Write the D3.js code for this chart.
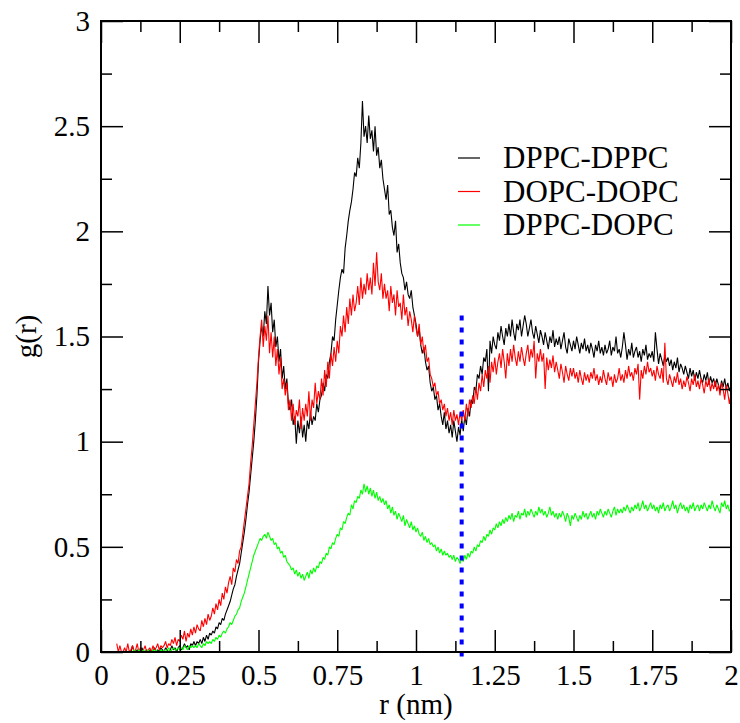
<!DOCTYPE html>
<html>
<head>
<meta charset="utf-8">
<script src="https://cdn.jsdelivr.net/npm/d3@7"></script>
<style>
  body { margin: 0; background: #fff; }
  svg { display: block; }
</style>
</head>
<body>
<div id="chart"></div>
<script>
// sample positions r = 0.050 .. 2.000 nm, every 0.005
var rValues = d3.range(50, 2001, 5).map(function(i) { return i / 1000; });

var dppcDppc = [
  0, 0, 0, 0, 0, 0, 0, 0, 0, 0,
  0.03, 0, 0, 0.01, 0, 0, 0.02, 0, 0, 0.01,
  0, 0.01, 0, 0, 0.02, 0, 0.01, 0, 0.02, 0.01,
  0, 0.02, 0.01, 0, 0.01, 0.03, 0.01, 0.02, 0, 0.02,
  0.03, 0.01, 0.02, 0.04, 0.02, 0.03, 0.01, 0.04, 0.03, 0.05,
  0.03, 0.05, 0.04, 0.06, 0.04, 0.07, 0.05, 0.08, 0.06, 0.09,
  0.08, 0.1, 0.09, 0.12, 0.11, 0.14, 0.13, 0.16, 0.15, 0.18,
  0.2, 0.22, 0.24, 0.27, 0.3, 0.32, 0.36, 0.39, 0.42, 0.47,
  0.52, 0.57, 0.63, 0.7, 0.76, 0.84, 0.92, 1.0, 1.1, 1.22,
  1.38, 1.48, 1.55, 1.5, 1.62, 1.56, 1.74, 1.6, 1.66, 1.52,
  1.58, 1.45, 1.5, 1.38, 1.44, 1.3, 1.36, 1.25, 1.3, 1.18,
  1.15, 1.2, 1.08, 1.12, 0.99, 1.1, 1.04, 1.12, 1.02, 1.08,
  1.0, 1.1, 1.06, 1.14, 1.08, 1.12, 1.1, 1.18, 1.14, 1.2,
  1.22, 1.28, 1.24, 1.32, 1.3, 1.38, 1.42, 1.5, 1.48, 1.58,
  1.65, 1.72, 1.78, 1.82, 1.8, 1.92, 1.98, 2.05, 2.1, 2.14,
  2.2, 2.28, 2.26, 2.35, 2.3, 2.42, 2.62, 2.45, 2.5, 2.42,
  2.55, 2.44, 2.48, 2.38, 2.5, 2.36, 2.4, 2.3, 2.34, 2.25,
  2.2, 2.15, 2.22, 2.08, 2.1, 2.02, 1.98, 2.05, 1.9, 1.94,
  1.85, 1.8, 1.78, 1.72, 1.76, 1.7, 1.68, 1.72, 1.64, 1.6,
  1.56, 1.5, 1.54, 1.46, 1.42, 1.45, 1.38, 1.34, 1.36, 1.28,
  1.24, 1.26, 1.2, 1.22, 1.15, 1.18, 1.12, 1.08, 1.14, 1.06,
  1.1, 1.04, 1.08, 1.02, 1.1, 1.05, 1.0, 1.07, 1.03, 1.11,
  1.05, 1.12, 1.08, 1.16, 1.12, 1.2, 1.18, 1.26, 1.24, 1.32,
  1.3, 1.36, 1.32, 1.4, 1.38, 1.44, 1.24, 1.48, 1.42, 1.5,
  1.46, 1.44, 1.52, 1.48, 1.55, 1.5, 1.46, 1.54, 1.5, 1.56,
  1.5, 1.58, 1.52, 1.48, 1.56, 1.53, 1.58, 1.5, 1.55, 1.6,
  1.56, 1.5, 1.54, 1.58, 1.52, 1.49, 1.55, 1.51, 1.47, 1.53,
  1.5, 1.46, 1.52, 1.48, 1.44, 1.5, 1.47, 1.53, 1.45, 1.49,
  1.46, 1.5, 1.44, 1.48, 1.52, 1.45, 1.42, 1.49, 1.46, 1.43,
  1.48, 1.44, 1.5, 1.46, 1.42, 1.47, 1.44, 1.49, 1.43, 1.46,
  1.42, 1.47, 1.44, 1.4, 1.46, 1.43, 1.48, 1.42, 1.45, 1.41,
  1.46, 1.42, 1.44, 1.48, 1.41, 1.45, 1.43, 1.5, 1.42, 1.44,
  1.4, 1.45, 1.52, 1.46, 1.39, 1.44, 1.41, 1.47, 1.4, 1.43,
  1.45, 1.4, 1.43, 1.38, 1.44, 1.41, 1.46, 1.39, 1.42, 1.4,
  1.43, 1.38, 1.52, 1.44, 1.37, 1.42, 1.39, 1.36, 1.41, 1.38,
  1.4, 1.36, 1.39, 1.34, 1.38, 1.35, 1.4, 1.33, 1.37, 1.35,
  1.32, 1.36, 1.33, 1.3, 1.35, 1.31, 1.34, 1.29, 1.33, 1.3,
  1.34, 1.3, 1.28, 1.32, 1.29, 1.33, 1.27, 1.31, 1.28, 1.3,
  1.26, 1.3, 1.27, 1.24, 1.29, 1.26, 1.3, 1.25, 1.28, 1.24,
  1.27
];

var dopcDopc = [
  0.04, 0, 0.03, 0, 0, 0.02, 0, 0.04, 0, 0.01,
  0.03, 0, 0.01, 0.04, 0, 0.02, 0, 0.01, 0.03, 0,
  0.01, 0.02, 0, 0.03, 0.01, 0.02, 0.04, 0.01, 0.03, 0.02,
  0.03, 0.05, 0.02, 0.04, 0.03, 0.06, 0.04, 0.07, 0.03, 0.06,
  0.05, 0.08, 0.06, 0.1, 0.05, 0.09, 0.07, 0.11, 0.08, 0.12,
  0.09, 0.13, 0.11, 0.1, 0.15, 0.12, 0.16, 0.13, 0.18, 0.15,
  0.17, 0.21, 0.18, 0.23, 0.2, 0.25, 0.22, 0.28, 0.25, 0.31,
  0.28, 0.33, 0.36, 0.32, 0.4, 0.38, 0.44, 0.42, 0.48, 0.5,
  0.56, 0.62, 0.68, 0.74, 0.8, 0.9, 0.98, 1.08, 1.18, 1.28,
  1.4, 1.5, 1.58, 1.45, 1.55, 1.48, 1.6, 1.42, 1.52, 1.4,
  1.5, 1.36, 1.44, 1.32, 1.4, 1.25, 1.3, 1.22, 1.28, 1.15,
  1.2, 1.1, 1.18, 1.08, 1.15, 1.12, 1.2, 1.06, 1.16, 1.1,
  1.18, 1.12, 1.24, 1.1, 1.2, 1.16, 1.28, 1.18, 1.24, 1.2,
  1.3, 1.22, 1.34, 1.26, 1.38, 1.3, 1.42, 1.36, 1.45, 1.38,
  1.48, 1.42, 1.55, 1.5, 1.6, 1.52, 1.64, 1.56, 1.68, 1.6,
  1.7, 1.62, 1.66, 1.74, 1.65, 1.78, 1.68, 1.75, 1.7, 1.8,
  1.72, 1.78, 1.7, 1.85, 1.74, 1.9, 1.76, 1.72, 1.8, 1.68,
  1.75, 1.68, 1.72, 1.62, 1.74, 1.66, 1.7, 1.6, 1.72, 1.64,
  1.66, 1.58, 1.7, 1.6, 1.64, 1.55, 1.62, 1.58, 1.52, 1.6,
  1.54, 1.5, 1.56, 1.46, 1.5, 1.42, 1.46, 1.38, 1.4, 1.32,
  1.3, 1.26, 1.28, 1.22, 1.24, 1.18, 1.2, 1.15, 1.18, 1.12,
  1.16, 1.1, 1.14, 1.08, 1.15, 1.1, 1.13, 1.08, 1.14, 1.1,
  1.15, 1.1, 1.18, 1.12, 1.2, 1.16, 1.22, 1.18, 1.26, 1.2,
  1.28, 1.24, 1.32, 1.26, 1.34, 1.3, 1.36, 1.28, 1.38, 1.33,
  1.4, 1.32, 1.38, 1.42, 1.35, 1.44, 1.38, 1.3, 1.42, 1.36,
  1.44, 1.38, 1.46, 1.4, 1.36, 1.43, 1.38, 1.45, 1.4, 1.36,
  1.42, 1.46, 1.38, 1.44, 1.4, 1.48, 1.3, 1.42, 1.38, 1.44,
  1.38, 1.42, 1.25, 1.4, 1.34, 1.39, 1.35, 1.41, 1.33, 1.38,
  1.34, 1.3, 1.37, 1.33, 1.28, 1.36, 1.32, 1.29, 1.35, 1.31,
  1.35, 1.3, 1.33, 1.28, 1.34, 1.3, 1.27, 1.33, 1.29, 1.32,
  1.28, 1.33, 1.3, 1.35, 1.29, 1.32, 1.27, 1.31, 1.28, 1.34,
  1.3, 1.27, 1.33, 1.29, 1.31, 1.26, 1.32, 1.28, 1.3, 1.35,
  1.29, 1.32, 1.28, 1.34, 1.3, 1.36, 1.31, 1.33, 1.29, 1.35,
  1.32, 1.37, 1.2, 1.34, 1.3, 1.36, 1.32, 1.38, 1.33, 1.35,
  1.31, 1.34, 1.29, 1.36, 1.32, 1.3, 1.35, 1.28, 1.47, 1.3,
  1.27, 1.32, 1.29, 1.26, 1.31, 1.28, 1.33, 1.27, 1.3, 1.25,
  1.29, 1.26, 1.31, 1.28, 1.24, 1.3, 1.27, 1.32, 1.26, 1.29,
  1.25, 1.3, 1.27, 1.23, 1.29, 1.26, 1.3, 1.24, 1.28, 1.25,
  1.29, 1.24, 1.27, 1.22, 1.28, 1.25, 1.2, 1.27, 1.23, 1.18,
  1.23
];

var dppcDopc = [
  0, 0, 0, 0, 0, 0, 0, 0, 0, 0,
  0, 0.01, 0, 0, 0.01, 0, 0, 0.01, 0, 0,
  0.01, 0, 0, 0.01, 0, 0.01, 0, 0, 0.01, 0,
  0.01, 0, 0.01, 0.02, 0, 0.01, 0.02, 0.01, 0.01, 0.02,
  0.01, 0.02, 0.01, 0.03, 0.02, 0.01, 0.03, 0.02, 0.03, 0.02,
  0.03, 0.02, 0.04, 0.03, 0.02, 0.04, 0.03, 0.05, 0.04, 0.05,
  0.04, 0.06, 0.05, 0.07, 0.06, 0.08, 0.07, 0.09, 0.1, 0.09,
  0.11, 0.12, 0.14, 0.13, 0.15, 0.17, 0.18, 0.2, 0.21, 0.24,
  0.26, 0.28, 0.31, 0.34, 0.37, 0.4, 0.43, 0.46, 0.48, 0.5,
  0.52, 0.54, 0.53, 0.55, 0.56, 0.54, 0.57, 0.55, 0.53, 0.54,
  0.51, 0.52, 0.49, 0.5, 0.47, 0.48, 0.45, 0.46, 0.43, 0.42,
  0.41, 0.39, 0.4, 0.37, 0.39, 0.36, 0.38, 0.35, 0.37, 0.34,
  0.36, 0.38, 0.35, 0.39, 0.37, 0.4, 0.38, 0.41, 0.4, 0.43,
  0.42, 0.45, 0.44, 0.47, 0.46, 0.5, 0.49, 0.52, 0.51, 0.54,
  0.56, 0.55, 0.59, 0.58, 0.62, 0.61, 0.64, 0.66, 0.65, 0.7,
  0.68, 0.72, 0.71, 0.74, 0.73, 0.77, 0.75, 0.8, 0.76, 0.79,
  0.75, 0.78, 0.74, 0.77, 0.73, 0.76, 0.72, 0.74, 0.71, 0.73,
  0.7, 0.72, 0.68, 0.7, 0.66, 0.69, 0.65, 0.67, 0.63, 0.66,
  0.64, 0.62, 0.65, 0.6, 0.63, 0.61, 0.59, 0.62, 0.58, 0.6,
  0.57, 0.59, 0.56, 0.55, 0.57, 0.53, 0.55, 0.52, 0.54, 0.51,
  0.52, 0.5, 0.51, 0.48, 0.5, 0.47, 0.49, 0.46, 0.48, 0.46,
  0.47, 0.45, 0.46, 0.44, 0.46, 0.43, 0.45, 0.44, 0.42, 0.45,
  0.43, 0.46, 0.44, 0.47, 0.45, 0.48, 0.47, 0.5, 0.48, 0.51,
  0.5, 0.53, 0.52, 0.55, 0.53, 0.56, 0.55, 0.58, 0.56, 0.59,
  0.58, 0.61, 0.59, 0.62, 0.6, 0.63, 0.61, 0.64, 0.62, 0.65,
  0.63, 0.66, 0.62, 0.65, 0.64, 0.67, 0.63, 0.66, 0.65, 0.68,
  0.64, 0.67, 0.65, 0.68, 0.66, 0.64, 0.67, 0.65, 0.69, 0.66,
  0.68, 0.65, 0.67, 0.64, 0.66, 0.69, 0.65, 0.67, 0.64, 0.66,
  0.63, 0.66, 0.64, 0.67, 0.65, 0.62, 0.66, 0.64, 0.6, 0.65,
  0.63, 0.66, 0.64, 0.62, 0.65, 0.63, 0.67, 0.64, 0.66, 0.63,
  0.65, 0.67, 0.64, 0.66, 0.63, 0.67, 0.65, 0.68, 0.66, 0.64,
  0.67, 0.65, 0.68, 0.66, 0.64, 0.67, 0.69, 0.65, 0.68, 0.66,
  0.68, 0.66, 0.69, 0.67, 0.7, 0.68, 0.66, 0.69, 0.67, 0.7,
  0.68, 0.71, 0.67, 0.69, 0.72, 0.68, 0.7, 0.67, 0.69, 0.71,
  0.68, 0.7, 0.67, 0.69, 0.66, 0.7, 0.68, 0.71, 0.67, 0.69,
  0.7, 0.67, 0.69, 0.72, 0.68, 0.7, 0.66, 0.69, 0.71, 0.68,
  0.7, 0.67, 0.69, 0.66, 0.7, 0.68, 0.71, 0.67, 0.69, 0.7,
  0.67, 0.7, 0.68, 0.71, 0.69, 0.67, 0.7, 0.68, 0.72, 0.69,
  0.67, 0.7, 0.68, 0.66, 0.71, 0.69, 0.72, 0.68, 0.7, 0.67,
  0.68
];

var seriesNames = ["DPPC-DPPC", "DOPC-DOPC", "DPPC-DOPC"];
var seriesColors = ["#000000", "#ff0000", "#00ff00"];

var xMajorTicks = [0, 0.25, 0.5, 0.75, 1, 1.25, 1.5, 1.75, 2];
var xMinorTicks = [0.125, 0.375, 0.625, 0.875, 1.125, 1.375, 1.625, 1.875];
var yMajorTicks = [0, 0.5, 1, 1.5, 2, 2.5, 3];
var yMinorTicks = [0.25, 0.75, 1.25, 1.75, 2.25, 2.75];

// dotted marker at the first minimum
var markerR = 1.145;
var markerG = [-0.04, 1.6];

var serif = "Liberation Serif";

function rdfPlot(node) {
  var W = 740, H = 723;
  var margin = {top: 21, right: 9, bottom: 71, left: 101},
    width = W - margin.left - margin.right,
    height = H - margin.top - margin.bottom;

  var svg = node.append("svg")
    .attr("width", W)
    .attr("height", H)
    .attr("font-family", serif);

  var g = svg.append("g")
    .attr("transform", "translate(" + margin.left + "," + margin.top + ")");

  var x = d3.scaleLinear().domain([0, 2]).range([0, width]);
  var y = d3.scaleLinear().domain([0, 3]).range([height, 0]);

  var line = d3.line()
    .x(function(d) { return x(d[0]); })
    .y(function(d) { return y(d[1]); });

  [dppcDppc, dopcDopc, dppcDopc].forEach(function(vals, i) {
    g.append("path")
      .datum(rValues.map(function(r, k) { return [r, vals[k]]; }))
      .attr("fill", "none")
      .attr("stroke", seriesColors[i])
      .attr("stroke-width", 1.1)
      .attr("stroke-linejoin", "bevel")
      .attr("d", line);
  });

  g.append("line")
    .attr("x1", x(markerR)).attr("x2", x(markerR))
    .attr("y1", y(markerG[1])).attr("y2", y(markerG[0]))
    .attr("stroke", "#0000ff")
    .attr("stroke-width", 4)
    .attr("stroke-dasharray", "5,7");

  // axes: major ticks with labels, minor ticks without, mirrored on top/right
  var fontSize = 29;
  var bottom = g.append("g").attr("transform", "translate(0," + height + ")")
    .call(d3.axisBottom(x).tickValues(xMajorTicks).tickSize(-22).tickPadding(0)
      .tickFormat(function(d) { return String(d); }));
  bottom.selectAll("text").attr("y", 33).attr("dy", 0);
  g.append("g").attr("transform", "translate(0," + height + ")")
    .call(d3.axisBottom(x).tickValues(xMinorTicks).tickSize(-11).tickFormat(""));
  g.append("g").call(d3.axisTop(x).tickValues(xMajorTicks).tickSize(-22).tickFormat(""));
  g.append("g").call(d3.axisTop(x).tickValues(xMinorTicks).tickSize(-11).tickFormat(""));

  g.append("g")
    .call(d3.axisLeft(y).tickValues(yMajorTicks).tickSize(-22).tickPadding(11)
      .tickFormat(function(d) { return String(d); }));
  g.append("g").call(d3.axisLeft(y).tickValues(yMinorTicks).tickSize(-11).tickFormat(""));
  g.append("g").attr("transform", "translate(" + width + ",0)")
    .call(d3.axisRight(y).tickValues(yMajorTicks).tickSize(-22).tickFormat(""));
  g.append("g").attr("transform", "translate(" + width + ",0)")
    .call(d3.axisRight(y).tickValues(yMinorTicks).tickSize(-11).tickFormat(""));

  g.selectAll(".domain").remove();
  g.selectAll("g").attr("font-family", serif).attr("font-size", fontSize);
  g.selectAll(".tick line").attr("stroke", "#000").attr("stroke-width", 1.5);
  g.selectAll(".tick text").attr("fill", "#000");

  g.append("rect")
    .attr("width", width).attr("height", height)
    .attr("fill", "none").attr("stroke", "#000").attr("stroke-width", 2);

  // axis titles
  svg.append("text")
    .attr("x", margin.left + width / 2).attr("y", 714)
    .attr("text-anchor", "middle")
    .attr("font-size", fontSize)
    .text("r (nm)");
  svg.append("text")
    .attr("transform", "translate(36," + (margin.top + y(1.5)) + ") rotate(-90)")
    .attr("text-anchor", "middle")
    .attr("font-size", fontSize)
    .text("g(r)");

  // legend
  var legend = svg.append("g");
  seriesNames.forEach(function(name, i) {
    var ly = 158 + i * 33.5;
    legend.append("line")
      .attr("x1", 458).attr("x2", 480).attr("y1", ly).attr("y2", ly)
      .attr("stroke", seriesColors[i]).attr("stroke-width", 1.2);
    legend.append("text")
      .attr("x", 503).attr("y", ly + 10)
      .attr("font-size", 31)
      .text(name);
  });
}

rdfPlot(d3.select("#chart"));
</script>
</body>
</html>
